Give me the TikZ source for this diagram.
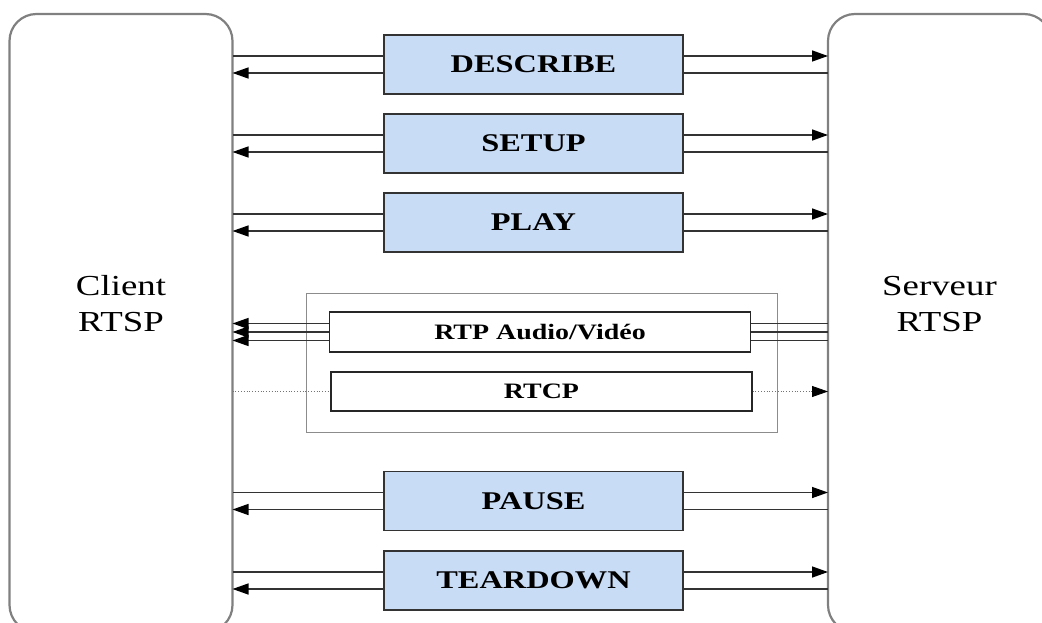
\documentclass[tikz,border=0pt]{standalone}
\usepackage{fontspec}
\setmainfont{Liberation Serif}
\usetikzlibrary{arrows.meta}
\definecolor{msgblue}{RGB}{201,220,246}
\newcommand{\wide}[1]{\scalebox{1.27}[1]{#1}}

\begin{document}
\begin{tikzpicture}[x=1pt, y=-1pt,
	host/.style={draw=black!50, line width=2.2pt, rounded corners=27pt, minimum width=223pt, minimum height=618pt, outer sep=0pt},
	msgbox/.style={draw=black!80, line width=1.2pt, fill=msgblue, minimum width=299pt, minimum height=59pt, font=\fontsize{25.5}{30}\selectfont\bfseries},
	rtpbox/.style={draw=black!85, line width=1.2pt, fill=white, minimum width=421pt, minimum height=40pt, font=\fontsize{22}{26}\selectfont\bfseries},
	hostlbl/.style={align=center, font=\fontsize{29}{36}\selectfont},
	wire/.style={draw=black!80, line width=1.4pt},
	tip/.style={wire, -{Triangle[length=16pt,width=11pt,fill=black,color=black]}},
	ctrl/.style={draw=black!55, line width=0.8pt, dotted}]
	\useasboundingbox (0,0) rectangle (1042,623);
	\clip (0,0) rectangle (1042,623);
	\node[host] (client) at (121,323) {};
	\node[host] (server) at (939.5,323) {};
	\node[hostlbl] (clientlbl) at (121,304) {\wide{Client}\\\wide{RTSP}};
	\node[hostlbl] (serverlbl) at (939.5,304) {\wide{Serveur}\\\wide{RTSP}};
	\node[msgbox] (describe) at (533.5, 64.5) {\wide{DESCRIBE}};
	\node[msgbox] (setup)    at (533.5,143.5) {\wide{SETUP}};
	\node[msgbox] (play)     at (533.5,222.5) {\wide{PLAY}};
	\node[msgbox] (pause)    at (533.5,501)   {\wide{PAUSE}};
	\node[msgbox] (teardown) at (533.5,580.5) {\wide{TEARDOWN}};
	\node[draw=black!45, line width=0.8pt, minimum width=471pt, minimum height=139pt] (media) at (541.5,362.5) {};
	\node[rtpbox] (rtp)  at (540,332)    {\wide{RTP Audio/Vidéo}};
	\node[rtpbox, minimum height=39pt] (rtcp) at (541.5,391.5) {\wide{RTCP}};
	% DESCRIBE
	\draw[wire] ([yshift=8.5pt]describe.west) -- ([yshift=8.5pt]describe.west -| client.east);
	\draw[tip]  ([yshift=-8.5pt]describe.west) -- ([yshift=-8.5pt]describe.west -| client.east);
	\draw[tip]  ([yshift=8.5pt]describe.east) -- ([yshift=8.5pt]describe.east -| server.west);
	\draw[wire] ([yshift=-8.5pt]describe.east) -- ([yshift=-8.5pt]describe.east -| server.west);
	% SETUP
	\draw[wire] ([yshift=8.5pt]setup.west) -- ([yshift=8.5pt]setup.west -| client.east);
	\draw[tip]  ([yshift=-8.5pt]setup.west) -- ([yshift=-8.5pt]setup.west -| client.east);
	\draw[tip]  ([yshift=8.5pt]setup.east) -- ([yshift=8.5pt]setup.east -| server.west);
	\draw[wire] ([yshift=-8.5pt]setup.east) -- ([yshift=-8.5pt]setup.east -| server.west);
	% PLAY
	\draw[wire] ([yshift=8.5pt]play.west) -- ([yshift=8.5pt]play.west -| client.east);
	\draw[tip]  ([yshift=-8.5pt]play.west) -- ([yshift=-8.5pt]play.west -| client.east);
	\draw[tip]  ([yshift=8.5pt]play.east) -- ([yshift=8.5pt]play.east -| server.west);
	\draw[wire] ([yshift=-8.5pt]play.east) -- ([yshift=-8.5pt]play.east -| server.west);
	% RTP / RTCP
	\draw[tip]  ([yshift=8.5pt]rtp.west) -- ([yshift=8.5pt]rtp.west -| client.east);
	\draw[tip]  (rtp.west) -- (rtp.west -| client.east);
	\draw[tip]  ([yshift=-8.5pt]rtp.west) -- ([yshift=-8.5pt]rtp.west -| client.east);
	\draw[wire] ([yshift=8.5pt]rtp.east) -- ([yshift=8.5pt]rtp.east -| server.west);
	\draw[wire] (rtp.east) -- (rtp.east -| server.west);
	\draw[wire] ([yshift=-8.5pt]rtp.east) -- ([yshift=-8.5pt]rtp.east -| server.west);
	\draw[ctrl] (client.east |- rtcp.west) -- (rtcp.west);
	\draw[ctrl, -{Triangle[length=16pt,width=11pt,fill=black,color=black]}] (rtcp.east) -- (rtcp.east -| server.west);
	% PAUSE
	\draw[wire] ([yshift=8.5pt]pause.west) -- ([yshift=8.5pt]pause.west -| client.east);
	\draw[tip]  ([yshift=-8.5pt]pause.west) -- ([yshift=-8.5pt]pause.west -| client.east);
	\draw[tip]  ([yshift=8.5pt]pause.east) -- ([yshift=8.5pt]pause.east -| server.west);
	\draw[wire] ([yshift=-8.5pt]pause.east) -- ([yshift=-8.5pt]pause.east -| server.west);
	% TEARDOWN
	\draw[wire] ([yshift=8.5pt]teardown.west) -- ([yshift=8.5pt]teardown.west -| client.east);
	\draw[tip]  ([yshift=-8.5pt]teardown.west) -- ([yshift=-8.5pt]teardown.west -| client.east);
	\draw[tip]  ([yshift=8.5pt]teardown.east) -- ([yshift=8.5pt]teardown.east -| server.west);
	\draw[wire] ([yshift=-8.5pt]teardown.east) -- ([yshift=-8.5pt]teardown.east -| server.west);
\end{tikzpicture}
\end{document}
